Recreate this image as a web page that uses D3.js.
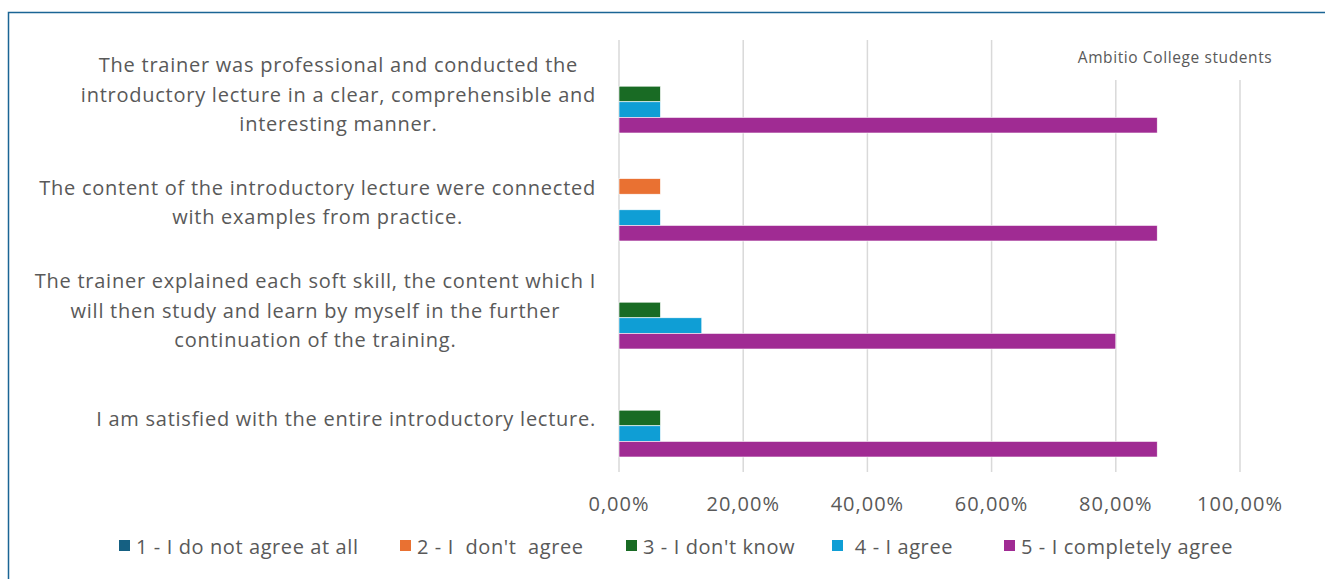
<!DOCTYPE html>
<html>
<head>
<meta charset="utf-8">
<script src="https://cdn.jsdelivr.net/npm/d3@7"></script>
<style>
  html, body { margin: 0; padding: 0; background: #fff; }
  svg { display: block; }
  text { font-family: "Open Sans", "Lato", sans-serif; fill: #595959; }
</style>
</head>
<body>
<svg id="chart" width="1325" height="579"></svg>
<script>
// ---- data ----
const questions = [
  ["The trainer was professional and conducted the", "introductory lecture in a clear, comprehensible and", "interesting manner."],
  ["The content of the introductory lecture were connected", "with examples from practice."],
  ["The trainer explained each soft skill, the content which I", "will then study and learn by myself in the further", "continuation of the training."],
  ["I am satisfied with the entire introductory lecture."]
];
const seriesNames = ["1 - I do not agree at all", "2 - I  don't  agree", "3 - I don't know", " 4 - I agree", "5 - I completely agree"];
const s1 = [0, 0, 0, 0];
const s2 = [0, 0.0667, 0, 0];
const s3 = [0.0667, 0, 0.0667, 0.0667];
const s4 = [0.0667, 0.0667, 0.1333, 0.0667];
const s5 = [0.8667, 0.8667, 0.80, 0.8667];
const tickValues = [0, 0.2, 0.4, 0.6, 0.8, 1.0];
const tickLabels = ["0,00%", "20,00%", "40,00%", "60,00%", "80,00%", "100,00%"];
const title = "Ambitio College students";
const colors = ["#156082", "#E97132", "#196B24", "#0F9ED5", "#A02B93"];

const seriesValues = [s1, s2, s3, s4, s5];

const svg = d3.select("#chart");

// border
svg.append("rect")
  .attr("x", 8.5).attr("y", 12.5)
  .attr("width", 1400).attr("height", 700)
  .attr("fill", "#fff").attr("stroke", "#1B6595").attr("stroke-width", 1.5);

const x = d3.scaleLinear().domain([0, 1]).range([619, 1240]);
const qIdx = questions.map((d, i) => i);
const y0 = d3.scaleBand().domain(qIdx).range([40, 472])
  .paddingInner(30 / 108).paddingOuter(15 / 108);
const y1 = d3.scaleBand().domain(d3.range(seriesNames.length)).range([0, y0.bandwidth()]);

// gridlines
svg.append("g").selectAll("line").data(tickValues).join("line")
  .attr("x1", d => x(d)).attr("x2", d => x(d))
  .attr("y1", 40).attr("y2", 472)
  .attr("stroke", "#d9d9d9").attr("stroke-width", 1.5);

// bars
const groups = svg.append("g").selectAll("g").data(qIdx).join("g")
  .attr("transform", d => `translate(0,${y0(d)})`);
groups.selectAll("rect")
  .data(qi => seriesValues.map((s, si) => ({ si, v: s[qi] })).filter(d => d.v > 0))
  .join("rect")
  .attr("x", x(0))
  .attr("y", d => y1(d.si))
  .attr("width", d => x(d.v) - x(0))
  .attr("height", y1.bandwidth())
  .attr("fill", d => colors[d.si])
  .attr("stroke", "#fff").attr("stroke-width", 0.6);

// title with white box
const tg = svg.append("g");
const tbox = tg.append("rect").attr("fill", "#fff");
const tt = tg.append("text")
  .attr("x", 1175).attr("y", 57)
  .attr("text-anchor", "middle")
  .attr("dominant-baseline", "central")
  .attr("font-size", 15.5)
  .attr("letter-spacing", 0.6)
  .text(title);
const tb = tt.node().getBBox();
tbox.attr("x", tb.x - 12).attr("y", 38).attr("width", tb.width + 24).attr("height", 42);

// category labels: block right-aligned at 596, lines centered within block
const lineH = 29.5;
const labelG = svg.append("g");
questions.forEach((lines, qi) => {
  const cy = y0(qi) + y0.bandwidth() / 2;
  const g = labelG.append("g");
  const texts = lines.map((ln, li) => g.append("text")
    .attr("font-size", 20)
    .attr("letter-spacing", 0.75)
    .attr("text-anchor", "middle")
    .attr("dominant-baseline", "central")
    .attr("y", cy + (li - (lines.length - 1) / 2) * lineH)
    .text(ln));
  const maxW = d3.max(texts, t => t.node().getComputedTextLength());
  texts.forEach(t => t.attr("x", 596 - maxW / 2));
});

// x axis tick labels
svg.append("g").selectAll("text").data(tickValues).join("text")
  .attr("x", d => x(d)).attr("y", 503)
  .attr("text-anchor", "middle")
  .attr("dominant-baseline", "central")
  .attr("font-size", 20)
  .attr("letter-spacing", 1)
  .text((d, i) => tickLabels[i]);

// legend
const legendStarts = [119, 400, 626, 832, 1004];
const lg = svg.append("g");
seriesNames.forEach((name, i) => {
  lg.append("rect")
    .attr("x", legendStarts[i]).attr("y", 540)
    .attr("width", 11).attr("height", 11)
    .attr("fill", colors[i]);
  lg.append("text")
    .attr("x", legendStarts[i] + 17).attr("y", 546)
    .attr("dominant-baseline", "central")
    .attr("font-size", 20)
    .attr("letter-spacing", 0.6)
    .attr("xml:space", "preserve")
    .style("white-space", "pre")
    .text(name);
});
</script>
</body>
</html>
